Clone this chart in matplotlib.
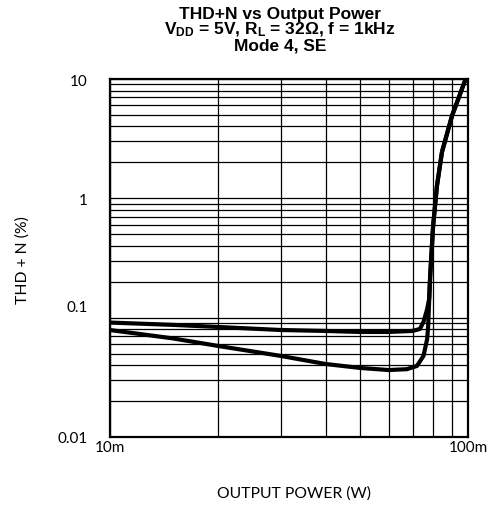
import matplotlib.pyplot as plt
from matplotlib.ticker import LogLocator, FixedLocator, NullFormatter
from matplotlib.transforms import ScaledTranslation

plt.rcParams['mathtext.fontset'] = 'custom'
plt.rcParams['mathtext.rm'] = 'Liberation Sans'
plt.rcParams['mathtext.bf'] = 'Liberation Sans:bold'

# output power (W) and THD+N (%)
p_upper = [0.010, 0.015, 0.020, 0.030, 0.040, 0.050, 0.060, 0.070, 0.0734,
           0.0751, 0.0769, 0.0779, 0.0784, 0.0799, 0.0819, 0.0846, 0.0902, 0.0985]
thd_upper = [0.091, 0.087, 0.0836, 0.0788, 0.0774, 0.0759, 0.0759, 0.0774, 0.0804,
             0.092, 0.118, 0.144, 0.224, 0.588, 1.27, 2.45, 4.9, 10.0]

p_lower = [0.010, 0.015, 0.020, 0.030, 0.040, 0.050, 0.060, 0.0675, 0.072,
           0.0751, 0.0769, 0.0774, 0.0779, 0.0784, 0.0799, 0.0819, 0.0846, 0.0902, 0.0985]
thd_lower = [0.0788, 0.067, 0.058, 0.0478, 0.0409, 0.0379, 0.0364, 0.037, 0.0394,
             0.0478, 0.0663, 0.0852, 0.14, 0.224, 0.588, 1.27, 2.45, 4.9, 10.0]

x_ticks = [0.01, 0.1]
x_labels = ['10m', '100m']
y_ticks = [0.01, 0.1, 1, 10]
y_labels = ['0.01', '0.1', '1', '10']

title_lines = ['THD+N vs Output Power',
               r'$\mathbf{V_{DD}}$ = 5V, $\mathbf{R_L}$ = 32Ω, f = 1kHz',
               'Mode 4, SE']

W, H = 492, 506
fig = plt.figure(figsize=(W / 100, H / 100), dpi=100)
ax = fig.add_axes([110 / W, 68 / H, 358 / W, 358 / H])

ax.plot(p_upper, thd_upper, color='black', lw=3.0, solid_capstyle='round')
ax.plot(p_lower, thd_lower, color='black', lw=3.0, solid_capstyle='round')

ax.set_xscale('log')
ax.set_yscale('log')
ax.set_xlim(0.01, 0.1)
ax.set_ylim(0.01, 10)

ax.xaxis.set_major_locator(FixedLocator(x_ticks))
ax.set_xticklabels(x_labels, fontfamily='Lato', fontsize=11)
ax.yaxis.set_major_locator(FixedLocator(y_ticks))
ax.set_yticklabels(y_labels, fontfamily='Lato', fontsize=11)
ax.xaxis.set_minor_locator(LogLocator(base=10, subs=range(2, 10)))
ax.yaxis.set_minor_locator(LogLocator(base=10, subs=range(2, 10)))
ax.xaxis.set_minor_formatter(NullFormatter())
ax.yaxis.set_minor_formatter(NullFormatter())
ax.tick_params(which='both', length=0)
ax.tick_params(axis='x', pad=2)
ax.tick_params(axis='y', pad=16)

# in the reference the "0.1" label sits a little above its grid line
lab = ax.get_yticklabels()[1]
lab.set_transform(lab.get_transform() + ScaledTranslation(0, 12 / 100, fig.dpi_scale_trans))

ax.grid(which='both', color='black', lw=0.9)
for s in ax.spines.values():
    s.set_linewidth(1.6)

ax.set_xlabel('OUTPUT POWER (W)', fontfamily='Lato', fontsize=11.3)
ax.xaxis.set_label_coords((294 - 110) / 358, -48 / 358)
ax.set_ylabel('THD + N (%)', fontfamily='Lato', fontsize=11.3)
ax.yaxis.set_label_coords((30 - 110) / 358, 0.497)

for i, line in enumerate(title_lines):
    fig.text(280 / W, 1 - (14 + 16 * i) / H, line, ha='center', va='center',
             fontfamily='Liberation Sans', fontweight='bold', fontsize=12.5)

fig.savefig('out.png', dpi=100)
